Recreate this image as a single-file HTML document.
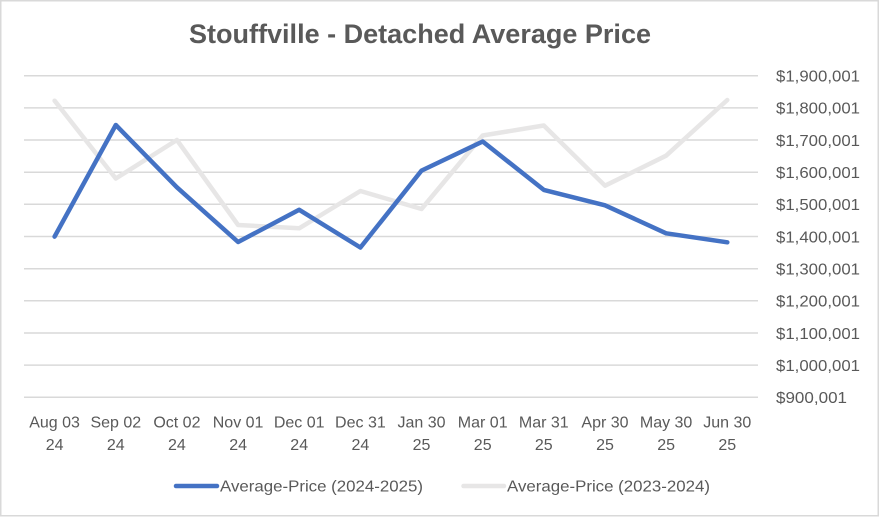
<!DOCTYPE html>
<html>
<head>
<meta charset="utf-8">
<style>
html,body{margin:0;padding:0;background:#fff;}
svg{display:block;}
text{font-family:"Liberation Sans",Arial,sans-serif;fill:#595959;}
</style>
</head>
<body>
<svg width="880" height="517" viewBox="0 0 880 517" xmlns="http://www.w3.org/2000/svg">
<rect x="0" y="0" width="880" height="517" fill="#fff"/>
<rect x="0.75" y="0.75" width="877.5" height="515" fill="none" stroke="#d9d9d9" stroke-width="1.5"/>

<text x="189" y="43" font-size="27" font-weight="bold" textLength="462" lengthAdjust="spacingAndGlyphs">Stouffville - Detached Average Price</text>

<g stroke="#d9d9d9" stroke-width="1.5">
<line x1="24" y1="75.7" x2="758" y2="75.7"/>
<line x1="24" y1="107.9" x2="758" y2="107.9"/>
<line x1="24" y1="140.0" x2="758" y2="140.0"/>
<line x1="24" y1="172.2" x2="758" y2="172.2"/>
<line x1="24" y1="204.3" x2="758" y2="204.3"/>
<line x1="24" y1="236.5" x2="758" y2="236.5"/>
<line x1="24" y1="268.7" x2="758" y2="268.7"/>
<line x1="24" y1="300.8" x2="758" y2="300.8"/>
<line x1="24" y1="333.0" x2="758" y2="333.0"/>
<line x1="24" y1="365.1" x2="758" y2="365.1"/>
<line x1="24" y1="397.3" x2="758" y2="397.3"/>
</g>

<g font-size="16">
<text x="776" y="81.5" textLength="84" lengthAdjust="spacingAndGlyphs">$1,900,001</text>
<text x="776" y="113.7" textLength="84" lengthAdjust="spacingAndGlyphs">$1,800,001</text>
<text x="776" y="145.8" textLength="84" lengthAdjust="spacingAndGlyphs">$1,700,001</text>
<text x="776" y="178.0" textLength="84" lengthAdjust="spacingAndGlyphs">$1,600,001</text>
<text x="776" y="210.1" textLength="84" lengthAdjust="spacingAndGlyphs">$1,500,001</text>
<text x="776" y="242.3" textLength="84" lengthAdjust="spacingAndGlyphs">$1,400,001</text>
<text x="776" y="274.5" textLength="84" lengthAdjust="spacingAndGlyphs">$1,300,001</text>
<text x="776" y="306.6" textLength="84" lengthAdjust="spacingAndGlyphs">$1,200,001</text>
<text x="776" y="338.8" textLength="84" lengthAdjust="spacingAndGlyphs">$1,100,001</text>
<text x="776" y="370.9" textLength="84" lengthAdjust="spacingAndGlyphs">$1,000,001</text>
<text x="776" y="403.1" textLength="71" lengthAdjust="spacingAndGlyphs">$900,001</text>
</g>

<g font-size="16" text-anchor="middle">
<text x="54.6" y="427.5">Aug 03</text><text x="54.6" y="450">24</text>
<text x="115.8" y="427.5">Sep 02</text><text x="115.8" y="450">24</text>
<text x="176.9" y="427.5">Oct 02</text><text x="176.9" y="450">24</text>
<text x="238.1" y="427.5">Nov 01</text><text x="238.1" y="450">24</text>
<text x="299.2" y="427.5">Dec 01</text><text x="299.2" y="450">24</text>
<text x="360.4" y="427.5">Dec 31</text><text x="360.4" y="450">24</text>
<text x="421.5" y="427.5">Jan 30</text><text x="421.5" y="450">25</text>
<text x="482.7" y="427.5">Mar 01</text><text x="482.7" y="450">25</text>
<text x="543.8" y="427.5">Mar 31</text><text x="543.8" y="450">25</text>
<text x="605.0" y="427.5">Apr 30</text><text x="605.0" y="450">25</text>
<text x="666.1" y="427.5">May 30</text><text x="666.1" y="450">25</text>
<text x="727.3" y="427.5">Jun 30</text><text x="727.3" y="450">25</text>
</g>

<polyline fill="none" stroke="#e7e6e6" stroke-width="4.5" stroke-linejoin="round" stroke-linecap="round"
 points="54.6,100.7 115.8,178.5 176.9,140 238.1,225 299.2,228.3 360.4,191 421.5,209 482.7,135.5 543.8,125.5 605.0,185.7 666.1,155.7 727.3,100"/>
<polyline fill="none" stroke="#4472c4" stroke-width="4.5" stroke-linejoin="round" stroke-linecap="round"
 points="54.6,236.6 115.8,125 176.9,187.3 238.1,242 299.2,209.8 360.4,247.5 421.5,170.6 482.7,141.5 543.8,189.9 605.0,205.3 666.1,233.3 727.3,242.3"/>

<line x1="176" y1="486" x2="217" y2="486" stroke="#4472c4" stroke-width="4.5" stroke-linecap="round"/>
<text x="220" y="491.5" font-size="16" textLength="203" lengthAdjust="spacingAndGlyphs">Average-Price (2024-2025)</text>
<line x1="463.5" y1="486" x2="504" y2="486" stroke="#e7e6e6" stroke-width="4.5" stroke-linecap="round"/>
<text x="507" y="491.5" font-size="16" textLength="203" lengthAdjust="spacingAndGlyphs">Average-Price (2023-2024)</text>
</svg>
</body>
</html>
